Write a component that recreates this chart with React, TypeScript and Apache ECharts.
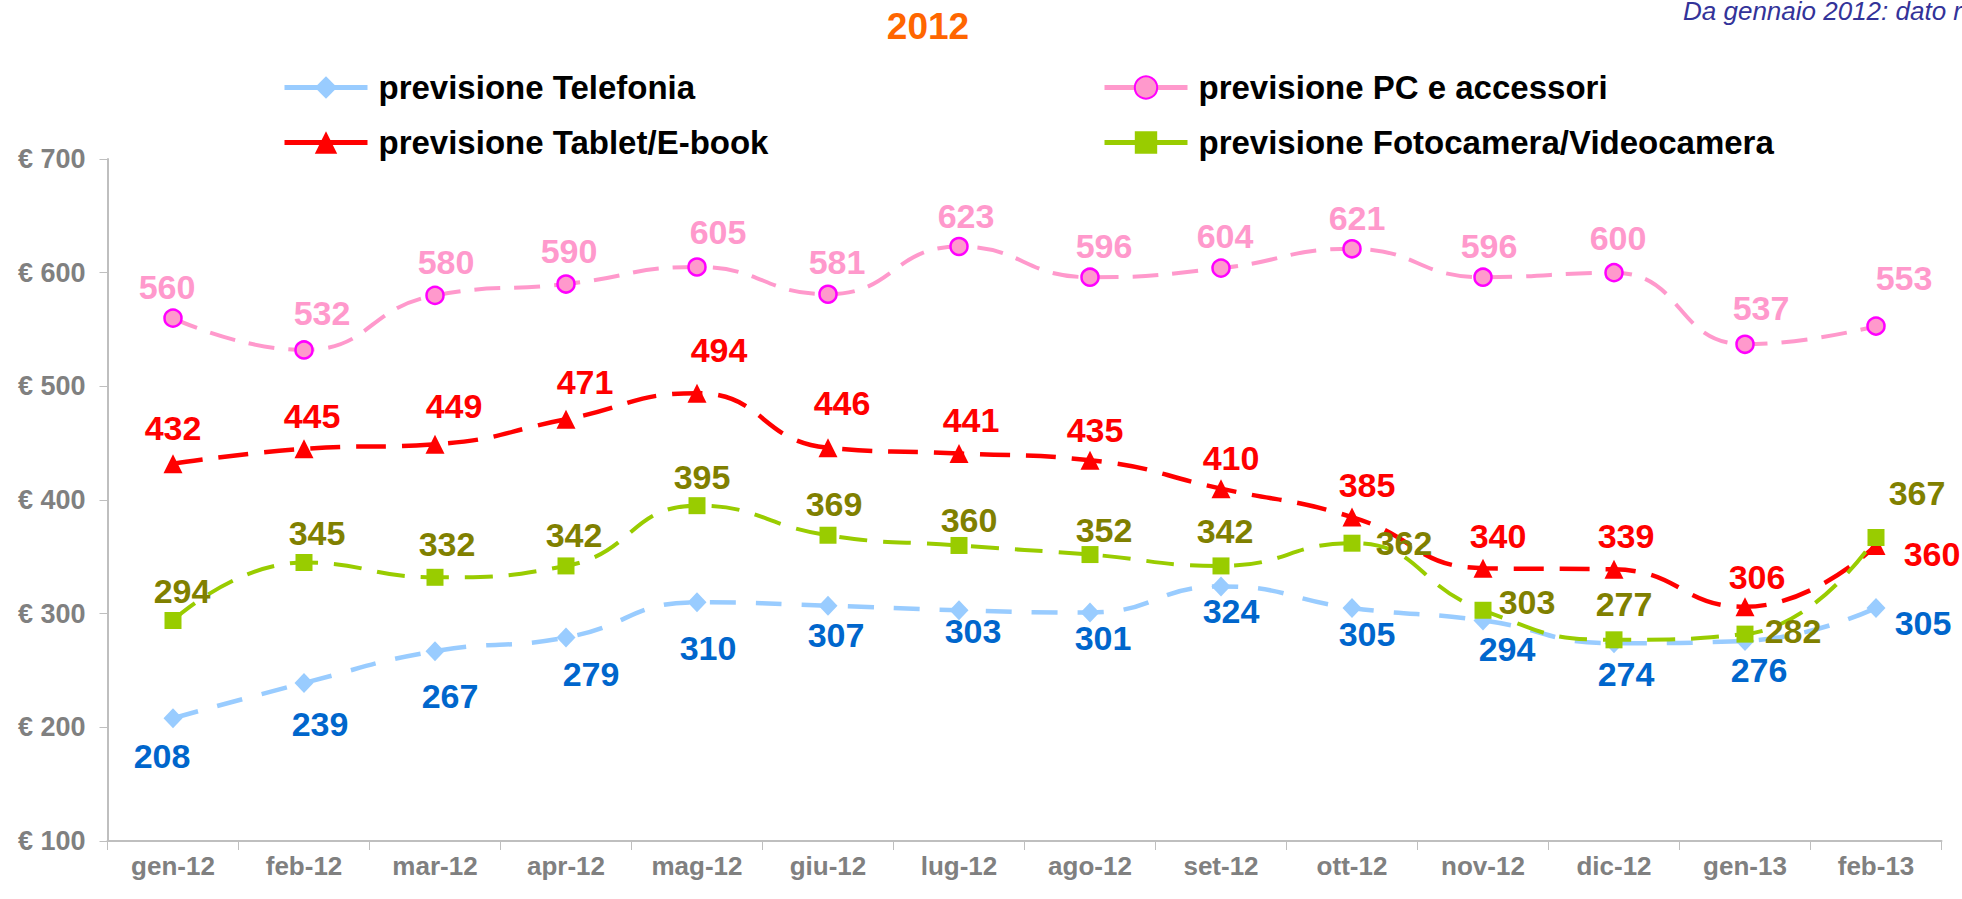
import React, { useEffect, useRef } from "react";
import * as echarts from "echarts";

const categories = ["gen-12", "feb-12", "mar-12", "apr-12", "mag-12", "giu-12", "lug-12", "ago-12", "set-12", "ott-12", "nov-12", "dic-12", "gen-13", "feb-13"];
const telefonia = [208, 239, 267, 279, 310, 307, 303, 301, 324, 305, 294, 274, 276, 305];
const pcAccessori = [560, 532, 580, 590, 605, 581, 623, 596, 604, 621, 596, 600, 537, 553];
const tablet = [432, 445, 449, 471, 494, 446, 441, 435, 410, 385, 340, 339, 306, 360];
const fotocamera = [294, 345, 332, 342, 395, 369, 360, 352, 342, 362, 303, 277, 282, 367];
const yTicks = { min: 100, max: 700, interval: 100 };

const seriesNames = [
  "previsione Telefonia",
  "previsione PC e accessori",
  "previsione Tablet/E-book",
  "previsione Fotocamera/Videocamera",
];

const FONT = '"Liberation Sans", Arial, sans-serif';

// label centre offsets relative to each marker (layout only)
const labelOffsets: number[][][] = [
  [[-11, 38], [16, 41], [15, 45], [25, 36], [11, 46], [8, 29], [14, 21], [13, 25], [10, 25], [15, 26], [24, 29], [12, 31], [14, 29], [47, 15]],
  [[-6, -31], [18, -37], [11, -33], [3, -33], [21, -35], [9, -32], [7, -31], [14, -31], [4, -32], [5, -31], [6, -31], [4, -35], [16, -36], [28, -48]],
  [[0, -36], [8, -33], [19, -38], [19, -37], [22, -43], [14, -45], [12, -33], [5, -30], [10, -31], [15, -32], [15, -32], [12, -33], [12, -30], [56, 9]],
  [[9, -29], [13, -30], [12, -33], [8, -31], [5, -29], [6, -31], [10, -25], [14, -25], [4, -35], [52, 0], [44, -8], [10, -36], [48, -3], [41, -45]],
];

function buildData(values: number[], si: number) {
  return values.map((v, i) => ({
    value: v,
    label: { position: "inside", offset: labelOffsets[si][i] },
  }));
}

export default function App() {
  const ref = useRef<HTMLDivElement>(null);
  useEffect(() => {
    document.body.style.margin = "0";
    if (!ref.current) return;
    const chart = echarts.init(ref.current, undefined, { renderer: "svg" });
    const lineColors = ["#99CCFF", "#FF99CC", "#FF0000", "#99CC00"];
    const labelColors = ["#0066CC", "#FF99CC", "#FF0000", "#808000"];
    const symbols = ["diamond", "circle", "triangle", "rect"];
    const symbolSizes: any[] = [[19, 20], 17, 19, 17];
    const dashes = [[26, 20], [26, 14], [30, 16], [28, 16]];
    const widths = [4.5, 4, 4.5, 4];
    const datasets = [telefonia, pcAccessori, tablet, fotocamera];

    const legendPos = [
      { left: 277, top: 66 },
      { left: 1097, top: 66 },
      { left: 277, top: 121 },
      { left: 1097, top: 121 },
    ];

    const option: any = {
      animation: false,
      backgroundColor: "#ffffff",
      textStyle: { fontFamily: FONT },
      graphic: [
        {
          type: "text",
          x: 928,
          y: 26,
          style: {
            text: "2012",
            fill: "#FF6600",
            font: `bold 37px ${FONT}`,
            align: "center",
            verticalAlign: "middle",
          },
        },
        {
          type: "text",
          x: 1683,
          y: 11,
          style: {
            text: "Da gennaio 2012: dato reale",
            fill: "#333399",
            font: `italic 26px ${FONT}`,
            align: "left",
            verticalAlign: "middle",
          },
        },
      ],
      legend: seriesNames.map((n, i) => ({
        data: [n],
        left: legendPos[i].left,
        top: legendPos[i].top,
        itemWidth: 83,
        itemHeight: 28,
        selectedMode: false,
        lineStyle: { type: "solid", width: 5 },
        textStyle: {
          fontFamily: FONT,
          fontSize: 33,
          fontWeight: "bold",
          color: "#000000",
          padding: [0, 0, 0, 6],
        },
      })),
      grid: { left: 107.5, right: 20.5, top: 159, bottom: 58, containLabel: false },
      xAxis: {
        type: "category",
        data: categories,
        boundaryGap: true,
        axisLine: { lineStyle: { color: "#BFBFBF", width: 2 } },
        axisTick: { show: true, interval: 0, length: 9, lineStyle: { color: "#BFBFBF", width: 1 } },
        axisLabel: {
          interval: 0,
          margin: 12,
          fontFamily: FONT,
          fontSize: 26,
          fontWeight: "bold",
          color: "#808080",
        },
        splitLine: { show: false },
      },
      yAxis: {
        type: "value",
        min: yTicks.min,
        max: yTicks.max,
        interval: yTicks.interval,
        axisLine: { show: true, lineStyle: { color: "#BFBFBF", width: 2 } },
        axisTick: { show: true, length: 8, lineStyle: { color: "#BFBFBF", width: 1 } },
        axisLabel: {
          formatter: "€ {value}",
          margin: 22,
          fontFamily: FONT,
          fontSize: 27,
          fontWeight: "bold",
          color: "#808080",
        },
        splitLine: { show: false },
      },
      series: datasets.map((vals, i) => ({
        name: seriesNames[i],
        type: "line",
        data: buildData(vals, i),
        smooth: 0.5,
        symbol: symbols[i],
        symbolSize: symbolSizes[i],
        showAllSymbol: true,
        lineStyle: { color: lineColors[i], width: widths[i], type: dashes[i] },
        itemStyle:
          i === 1
            ? { color: "#FF99CC", borderColor: "#FF00FF", borderWidth: 2.5 }
            : { color: lineColors[i], borderWidth: 0 },
        label: {
          show: true,
          fontFamily: FONT,
          fontSize: 34,
          fontWeight: "bold",
          color: labelColors[i],
        },
        emphasis: { disabled: true },
      })),
    };
    chart.setOption(option);
    return () => chart.dispose();
  }, []);
  return <div ref={ref} style={{ width: 1962, height: 899 }} />;
}
